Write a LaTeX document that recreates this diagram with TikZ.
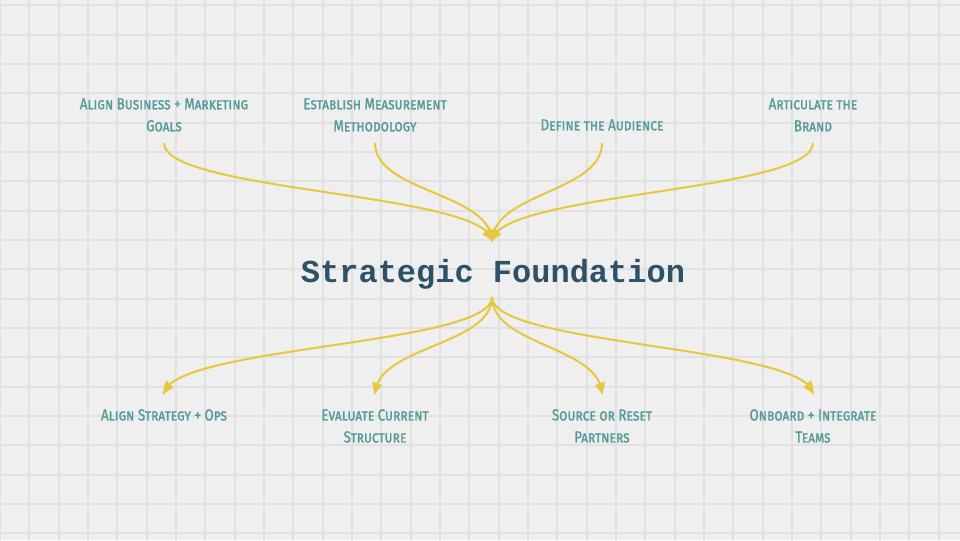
\documentclass[tikz,border=0pt]{standalone}
\usepackage{fontspec}
\usetikzlibrary{arrows.meta,bending}
\newfontfamily\labelfont{Fira Sans}[Letters=SmallCaps,FakeStretch=0.83,FakeBold=1.2]
\newfontfamily\titlefont{Liberation Mono}
\definecolor{bgcol}{HTML}{EFEFEF}
\definecolor{gridcol}{HTML}{E1E1E1}
\definecolor{linkcol}{HTML}{E6C83C}
\definecolor{labelcol}{HTML}{569A9A}
\definecolor{titlecol}{HTML}{2F5168}
\tikzset{
  lbl/.style={font=\labelfont\fontsize{12}{16.5}\selectfont, text=labelcol, align=center, inner sep=0pt, anchor=north},
  ttl/.style={font=\titlefont\bfseries\fontsize{24}{28}\selectfont, text=titlecol, inner sep=0pt, anchor=base},
  link/.style={draw=linkcol, line width=1.5pt, -{Triangle[length=9pt,width=7.5pt,bend]}},
  gridline/.style={draw=gridcol, line width=1.5pt},
}
\begin{document}
\begin{tikzpicture}[x=0.75pt,y=-0.75pt]
\fill[bgcol] (0,0) rectangle (960,540);
\useasboundingbox (0,0) rectangle (960,540);
\foreach \i in {0,...,33} {
  \draw[gridline] ({29.333*\i},0) -- ({29.333*\i},540);
}
\foreach \j in {0,...,18} {
  \draw[gridline] (0,{5.333+29.333*\j}) -- (960,{5.333+29.333*\j});
}
% title
\node[ttl] (title) at (493,282.5) {Strategic Foundation};
% top labels
\node[lbl] (t1) at (164,98) {Align Business + Marketing\\Goals};
\node[lbl] (t2) at (375,98) {Establish Measurement\\Methodology};
\node[lbl] (t3) at (602,119) {Define the Audience};
\node[lbl] (t4) at (813,98) {Articulate the\\Brand};
% bottom labels
\node[lbl] (b1) at (164,409) {Align Strategy + Ops};
\node[lbl] (b2) at (375,409) {Evaluate Current\\Structure};
\node[lbl] (b3) at (602,409) {Source or Reset\\Partners};
\node[lbl] (b4) at (813,409) {Onboard + Integrate\\Teams};
% anchor coordinates
\coordinate (in) at (492,242);
\coordinate (out) at (492,297);
\coordinate (s1) at (164,143);
\coordinate (s2) at (375,143);
\coordinate (s3) at (602,143);
\coordinate (s4) at (813,143);
\coordinate (e1) at (164,395);
\coordinate (e2) at (375,395);
\coordinate (e3) at (602,395);
\coordinate (e4) at (813,395);
% top links
\draw[link] (s1) .. controls (164,192.5) and (492,192.5) .. (in);
\draw[link] (s2) .. controls (375,192.5) and (492,192.5) .. (in);
\draw[link] (s3) .. controls (602,192.5) and (492,192.5) .. (in);
\draw[link] (s4) .. controls (813,192.5) and (492,192.5) .. (in);
% bottom links
\draw[link] (out) .. controls (492,346) and (164,346) .. (e1);
\draw[link] (out) .. controls (492,346) and (375,346) .. (e2);
\draw[link] (out) .. controls (492,346) and (602,346) .. (e3);
\draw[link] (out) .. controls (492,346) and (813,346) .. (e4);
\end{tikzpicture}
\end{document}
